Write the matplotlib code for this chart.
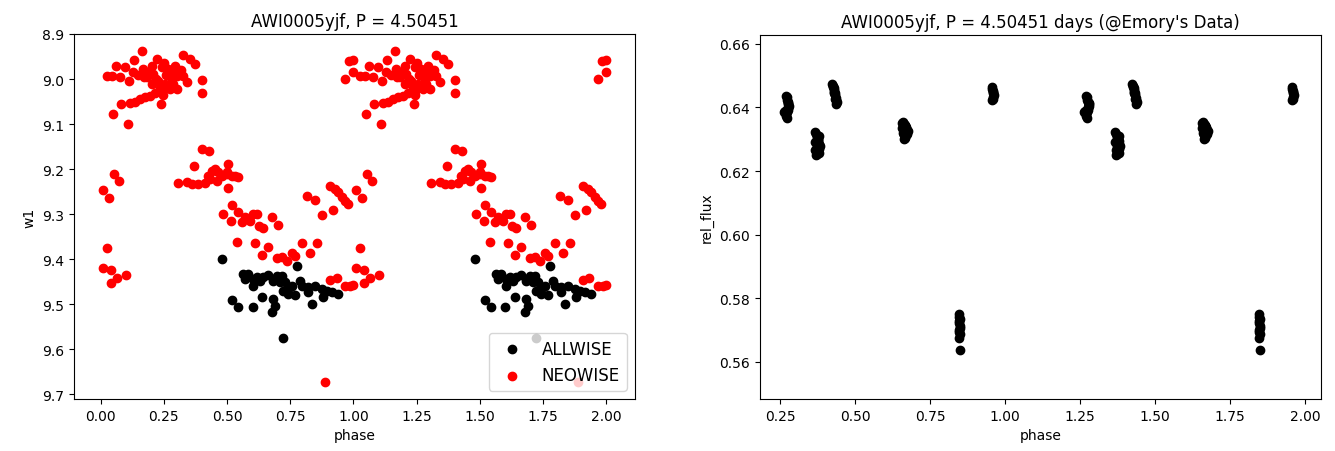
import numpy as np
import matplotlib
matplotlib.use("Agg")
import matplotlib.pyplot as plt

# ---------------- data (phase in [0,1), folded light curve) ----------------
neowise_phase = [
    0.165, 0.061, 0.134, 0.025, 0.045, 0.097, 0.077, 0.114, 0.130, 0.169,
    0.202, 0.222, 0.242, 0.209, 0.183, 0.268, 0.294, 0.325, 0.354, 0.374,
    0.304, 0.327, 0.341, 0.400, 0.400, 0.281, 0.229, 0.255, 0.202, 0.235,
    0.275, 0.301, 0.215, 0.242, 0.196, 0.176, 0.156, 0.136, 0.117, 0.080,
    0.239, 0.048, 0.107, 0.190, 0.260, 0.220, 0.285, 0.172, 0.250, 0.318,
    0.148, 0.245, 0.290,
    0.400, 0.430, 0.371, 0.053, 0.074, 0.009, 0.035,
    0.308, 0.341, 0.360, 0.387, 0.413, 0.426, 0.440, 0.453, 0.466, 0.479,
    0.499, 0.519, 0.532, 0.545, 0.433, 0.459, 0.505, 0.499, 0.505,
    0.483, 0.519, 0.545, 0.516, 0.558, 0.571, 0.591, 0.604, 0.617, 0.628,
    0.644, 0.677, 0.703,
    0.538, 0.611, 0.663, 0.795, 0.855, 0.637, 0.696, 0.716, 0.736, 0.756,
    0.769, 0.828,
    0.815, 0.848, 0.874, 0.920, 0.908, 0.927, 0.940, 0.953, 0.967, 0.980,
    0.907, 0.933, 0.966, 0.986, 0.999, 0.887,
    0.027, 0.009, 0.040, 0.101, 0.066, 0.040,
    0.966, 0.983, 0.999, 0.999,
]
neowise_w1 = [
    8.938, 8.970, 8.958, 8.993, 8.993, 8.974, 8.996, 9.004, 8.985, 8.978,
    8.970, 8.956, 8.974, 8.989, 8.996, 8.978, 8.970, 8.946, 8.956, 8.967,
    8.993, 8.993, 9.007, 9.002, 9.030, 9.000, 9.004, 9.011, 9.011, 9.019,
    9.022, 9.022, 9.030, 9.027, 9.037, 9.041, 9.044, 9.052, 9.053, 9.056,
    9.056, 9.078, 9.100, 8.985, 8.990, 9.000, 9.010, 8.995, 8.965, 8.980,
    8.990, 9.035, 8.985,
    9.156, 9.161, 9.194, 9.211, 9.227, 9.246, 9.265,
    9.230, 9.228, 9.233, 9.233, 9.230, 9.215, 9.204, 9.200, 9.207, 9.215,
    9.211, 9.215, 9.215, 9.218, 9.222, 9.226, 9.189, 9.207, 9.243,
    9.300, 9.280, 9.295, 9.316, 9.318, 9.307, 9.315, 9.300, 9.300, 9.327,
    9.332, 9.306, 9.324,
    9.362, 9.365, 9.374, 9.365, 9.365, 9.391, 9.398, 9.396, 9.404, 9.387,
    9.394, 9.387,
    9.261, 9.268, 9.302, 9.290, 9.237, 9.244, 9.252, 9.263, 9.270, 9.278,
    9.446, 9.443, 9.461, 9.459, 9.458, 9.674,
    9.376, 9.421, 9.424, 9.435, 9.443, 9.453,
    9.000, 8.959, 8.958, 8.985,
]

allwise_phase = [
    0.481, 0.775, 0.562, 0.584, 0.571, 0.604, 0.604, 0.630, 0.663, 0.683,
    0.716, 0.709, 0.729, 0.723, 0.742, 0.769, 0.789, 0.795, 0.822, 0.822,
    0.848, 0.874, 0.881, 0.894, 0.914, 0.940, 0.835, 0.519, 0.545, 0.601,
    0.637, 0.683, 0.690, 0.677, 0.723, 0.644, 0.696, 0.756, 0.742, 0.617,
]
allwise_w1 = [
    9.399, 9.416, 9.433, 9.433, 9.444, 9.444, 9.459, 9.448, 9.436, 9.448,
    9.437, 9.452, 9.452, 9.470, 9.467, 9.481, 9.448, 9.459, 9.463, 9.474,
    9.459, 9.467, 9.485, 9.470, 9.474, 9.478, 9.500, 9.491, 9.507, 9.507,
    9.485, 9.489, 9.504, 9.517, 9.576, 9.439, 9.438, 9.459, 9.478, 9.440,
]

emory_phase = [
    0.270, 0.272, 0.274, 0.276, 0.278, 0.279, 0.277, 0.275, 0.273, 0.271,
    0.270, 0.272, 0.262, 0.265, 0.276, 0.278,
    0.366, 0.369, 0.372, 0.375, 0.378, 0.381, 0.382, 0.380, 0.377, 0.374,
    0.371, 0.368, 0.367, 0.379, 0.372, 0.381, 0.376,
    0.424, 0.426, 0.428, 0.429, 0.431, 0.433, 0.434, 0.436, 0.437, 0.438,
    0.436, 0.431, 0.427, 0.433,
    0.655, 0.659, 0.662, 0.665, 0.668, 0.672, 0.676, 0.673, 0.669, 0.666,
    0.663, 0.660, 0.656, 0.667, 0.664, 0.671,
    0.845, 0.847, 0.849, 0.847, 0.845, 0.849, 0.850, 0.847, 0.845, 0.849,
    0.847, 0.849,
    0.955, 0.957, 0.959, 0.961, 0.962, 0.960, 0.958, 0.956, 0.959,
]
emory_flux = [
    0.6437, 0.6432, 0.6425, 0.6418, 0.6412, 0.6405, 0.6398, 0.6392, 0.6386, 0.6380,
    0.6374, 0.6368, 0.6385, 0.6390, 0.6402, 0.6415,
    0.6323, 0.6316, 0.6308, 0.6300, 0.6293, 0.6285, 0.6278, 0.6270, 0.6262, 0.6255,
    0.6249, 0.6265, 0.6290, 0.6310, 0.6280, 0.6258, 0.6298,
    0.6473, 0.6468, 0.6462, 0.6456, 0.6450, 0.6444, 0.6438, 0.6431, 0.6424, 0.6417,
    0.6410, 0.6447, 0.6465, 0.6428,
    0.6350, 0.6353, 0.6348, 0.6342, 0.6336, 0.6330, 0.6325, 0.6318, 0.6312, 0.6305,
    0.6300, 0.6320, 0.6335, 0.6345, 0.6315, 0.6340,
    0.5749, 0.5742, 0.5735, 0.5728, 0.5721, 0.5714, 0.5707, 0.5700, 0.5693, 0.5686,
    0.5675, 0.5637,
    0.6463, 0.6458, 0.6452, 0.6446, 0.6440, 0.6434, 0.6428, 0.6422, 0.6450,
]

title_left = "AWI0005yjf, P = 4.50451"
title_right = "AWI0005yjf, P = 4.50451 days (@Emory's Data)"

# ---------------- figure ----------------
W, H = 1335, 452
fig = plt.figure(figsize=(W / 100, H / 100), dpi=100)

def box(x0, y0, x1, y1):
    return [x0 / W, 1 - y1 / H, (x1 - x0) / W, (y1 - y0) / H]

ax1 = fig.add_axes(box(74, 35, 635, 400))
ax2 = fig.add_axes(box(760, 36, 1321, 400))

ap = np.array(allwise_phase)
aw = np.array(allwise_w1)
npf = np.array(neowise_phase)
nw = np.array(neowise_w1)

ax1.scatter(np.concatenate([ap, ap + 1]), np.concatenate([aw, aw]),
            c='black', s=36, label='ALLWISE')
ax1.scatter(np.concatenate([npf, npf + 1]), np.concatenate([nw, nw]),
            c='red', s=36, label='NEOWISE')
ax1.set_xlim(-0.105, 2.113)
ax1.set_ylim(9.711, 8.900)
ax1.set_xlabel('phase')
ax1.set_ylabel('w1')
ax1.set_title(title_left)
ax1.legend(loc='lower right', fontsize=12)

ep = np.array(emory_phase)
ef = np.array(emory_flux)
ax2.scatter(np.concatenate([ep, ep + 1]), np.concatenate([ef, ef]),
            c='black', s=36)
ax2.set_xlim(0.183, 2.053)
ax2.set_ylim(0.5483, 0.6628)
ax2.set_xlabel('phase')
ax2.set_ylabel('rel_flux')
ax2.set_title(title_right)

fig.savefig('out.png', dpi=100)
